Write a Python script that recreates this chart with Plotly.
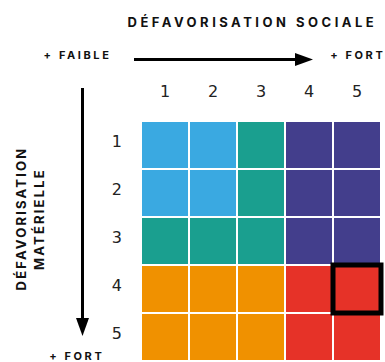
import plotly.graph_objects as go

# axes: défavorisation sociale (colonnes) et matérielle (lignes)
cols = ["1", "2", "3", "4", "5"]
rows = ["1", "2", "3", "4", "5"]

# catégorie de chaque case : 0 bleu, 1 vert, 2 violet, 3 orange, 4 rouge
cells = [[0, 0, 1, 2, 2],
         [0, 0, 1, 2, 2],
         [1, 1, 1, 2, 2],
         [3, 3, 3, 4, 4],
         [3, 3, 3, 4, 4]]
colors = ["#3aa9e1", "#1a9f8f", "#433e8c", "#f09100", "#e63228"]

highlight_row, highlight_col = "4", "5"

W, H = 385, 362
L, T, PW, PH = 141, 121, 240, 240


def px(x):
    return (x - L) / PW


def py(y):
    return (T + PH - y) / PH


title_font = dict(family="Inter", size=13, color="#111111")
side_font = dict(family="Inter", size=13, color="#111111")
small = dict(family="Inter", size=11, color="#111111")
num_font = dict(family="DejaVu Sans", size=16, color="#222222")

fig = go.Figure()
fig.add_trace(go.Heatmap(x=cols, y=rows, z=cells, zmin=0, zmax=len(colors) - 1,
                         colorscale=[[i / (len(colors) - 1), c] for i, c in enumerate(colors)],
                         showscale=False, xgap=2, ygap=2, hoverinfo="skip"))

fig.update_xaxes(side="top", showgrid=False, zeroline=False, showline=False, ticks="",
                 tickfont=num_font, ticklabelstandoff=20)
fig.update_yaxes(autorange="reversed", showgrid=False, zeroline=False, showline=False, ticks="",
                 tickfont=num_font, ticklabelstandoff=18, ticklabelshift=4)

# case mise en évidence
ci, ri = cols.index(highlight_col), rows.index(highlight_row)
fig.add_shape(type="rect", xref="x domain", yref="y domain",
              x0=ci / len(cols), x1=(ci + 1) / len(cols),
              y0=1 - (ri + 1) / len(rows), y1=1 - ri / len(rows),
              line=dict(color="black", width=5), layer="above")

# flèches
arrow = dict(color="black", width=3)
fig.add_shape(type="line", xref="paper", yref="paper", x0=px(134), x1=px(296), y0=py(59.5), y1=py(59.5), line=arrow)
fig.add_shape(type="path", xref="paper", yref="paper", fillcolor="black", line=dict(width=0),
              path=f"M {px(295)},{py(53)} L {px(313)},{py(59.5)} L {px(295)},{py(66)} Z")
fig.add_shape(type="line", xref="paper", yref="paper", x0=px(82.5), x1=px(82.5), y0=py(88), y1=py(319), line=arrow)
fig.add_shape(type="path", xref="paper", yref="paper", fillcolor="black", line=dict(width=0),
              path=f"M {px(76)},{py(318)} L {px(82.5)},{py(336)} L {px(89)},{py(318)} Z")

labels = [
    ("DÉFAVORISATION SOCIALE", 252, 21.7, title_font, 0),
    ("+ FAIBLE", 77.5, 54.7, small, 0),
    ("+ FORT", 357.5, 55, small, 0),
    ("+ FORT", 77, 356, small, 0),
    ("DÉFAVORISATION", 21, 219, side_font, -90),
    ("MATÉRIELLE", 39, 219, side_font, -90),
]
for text, x, y, font, angle in labels:
    fig.add_annotation(text=f"<b>{text}</b>", x=px(x), y=py(y), xref="paper", yref="paper", showarrow=False,
                       xanchor="center", yanchor="middle", textangle=angle, font=font)

fig.update_layout(width=W, height=H, margin=dict(l=L, t=T, r=W - L - PW, b=H - T - PH),
                  plot_bgcolor="white", paper_bgcolor="white", showlegend=False)

# page sans marge + espacement des lettres comme sur l'original
css = """
var s = document.createElement('style');
s.textContent = 'body{margin:0}'
  + '.annotation[data-index="0"] text{letter-spacing:3.5px}'
  + '.annotation[data-index="1"] text, .annotation[data-index="2"] text, .annotation[data-index="3"] text{letter-spacing:2.6px}'
  + '.annotation[data-index="4"] text, .annotation[data-index="5"] text{letter-spacing:2.2px}';
document.head.appendChild(s);
"""
fig.write_html("out.html", post_script=css, config={"displayModeBar": False})
